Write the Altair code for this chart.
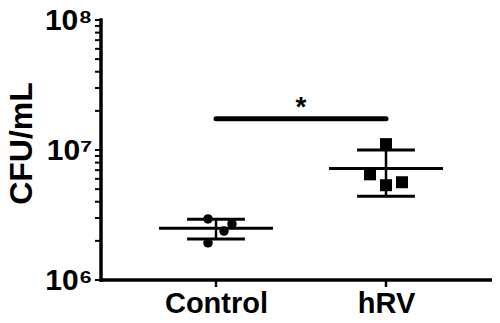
import math
import altair as alt
import pandas as pd

# ---- data ----
groups = ["Control", "hRV"]
group_pos = [0, 1]
ctrl_vals = [2.95e6, 2.70e6, 2.38e6, 1.93e6]
ctrl_jit = [-0.047, 0.094, 0.047, -0.047]
hrv_vals = [1.11e7, 6.5e6, 5.36e6, 5.65e6]
hrv_jit = [0.0, -0.094, 0.0, 0.094]
means = [2.5e6, 7.2e6]
sds = [0.43e6, 2.8e6]
sig_y = 1.74e7
star_y = 1.74e7
y_lo, y_hi = 1e6, 1e8

y_ticks = [k * 10 ** e for e in (6, 7) for k in range(1, 10)] + [10 ** 8]

# ---- layout (pixels) ----
W, H = 399, 272
X0 = 123          # pixel of Control
PX_PER_UNIT = 170
AX_X = 8          # y-axis line inside plot area
AX_TOP = 2        # pixel of 1e8
AX_BOT = 262      # pixel of 1e6
TICK_Y = 6
TICK_X = 7

dec_per_px = (math.log10(y_hi) - math.log10(y_lo)) / (AX_BOT - AX_TOP)
dom_lo = 10 ** (math.log10(y_lo) - (H - AX_BOT) * dec_per_px)
dom_hi = 10 ** (math.log10(y_hi) + AX_TOP * dec_per_px)


def px2x(p):
    return (p - X0) / PX_PER_UNIT


pts = pd.DataFrame({
    "group": ["Control"] * 4 + ["hRV"] * 4,
    "pos": [0] * 4 + [1] * 4,
    "jit": ctrl_jit + hrv_jit,
    "value": ctrl_vals + hrv_vals,
})
summ = pd.DataFrame({"group": groups, "pos": group_pos, "mean": means, "sd": sds})
sig = pd.DataFrame({"x1": [0], "x2": [1], "y": [sig_y], "ys": [star_y], "label": ["*"]})
ytk = pd.DataFrame({"v": y_ticks, "a": px2x(AX_X - TICK_Y), "b": px2x(AX_X)})
xtk = pd.DataFrame({"p": group_pos, "a": y_lo, "b": 10 ** (math.log10(y_lo) - TICK_X * dec_per_px)})
ydomd = pd.DataFrame({"x": [px2x(AX_X)], "a": [y_lo], "b": [y_hi]})
xdomd = pd.DataFrame({"a": [px2x(AX_X)], "b": [px2x(W)], "y": [y_lo]})

FONT = "Liberation Sans"
xscale = alt.Scale(domain=[px2x(0), px2x(W)], nice=False, zero=False)
yscale = alt.Scale(type="log", domain=[dom_lo, dom_hi], nice=False)

xaxis = alt.Axis(
    values=[0, 1], title=None, domain=False, ticks=False,
    labelExpr="datum.value == 0 ? 'Control' : datum.value == 1 ? 'hRV' : ''",
    labelFontSize=29, labelPadding=-1,
)
yaxis = alt.Axis(
    values=y_ticks, title="CFU/mL", domain=False, ticks=False,
    labelExpr="datum.value == 1000000 ? '10⁶' : datum.value == 10000000 ? '10⁷' : datum.value == 100000000 ? '10⁸' : ''",
    labelFontSize=30, labelPadding=1,
    titleFont=FONT, titleFontSize=32, titleFontWeight="bold", titleColor="black",
    titleX=-62, titleY=125, titleBaseline="alphabetic", titleAlign="center", titleAngle=270,
)


def X(field):
    return alt.X(field, scale=xscale, axis=xaxis)


def Y(field):
    return alt.Y(field, scale=yscale, axis=yaxis)


points = alt.Chart(pts).transform_calculate(xp="datum.pos + datum.jit").mark_point(
    filled=True, color="black", opacity=1
).encode(
    x=X("xp:Q"),
    y=Y("value:Q"),
    shape=alt.Shape("group:N", scale=alt.Scale(domain=groups, range=["circle", "square"]), legend=None),
    size=alt.Size("group:N", scale=alt.Scale(domain=groups, range=[90, 144]), legend=None),
)

base = alt.Chart(summ).transform_calculate(
    ml="datum.pos - 0.335", mr="datum.pos + 0.335",
    sl="datum.pos - 0.17", sr="datum.pos + 0.17",
    hi="datum.mean + datum.sd", lo="datum.mean - datum.sd",
)
mean_rule = base.mark_rule(color="black", strokeWidth=3).encode(
    x=X("ml:Q"), x2="mr:Q", y=Y("mean:Q"))
sd_hi = base.mark_rule(color="black", strokeWidth=3).encode(
    x=X("sl:Q"), x2="sr:Q", y=Y("hi:Q"))
sd_lo = base.mark_rule(color="black", strokeWidth=3).encode(
    x=X("sl:Q"), x2="sr:Q", y=Y("lo:Q"))
sd_v = base.mark_rule(color="black", strokeWidth=2.5).encode(
    x=X("pos:Q"), y=Y("lo:Q"), y2="hi:Q")

sig_bar = alt.Chart(sig).mark_rule(color="black", strokeWidth=5, strokeCap="round").encode(
    x=X("x1:Q"), x2="x2:Q", y=Y("y:Q"))
star = alt.Chart(sig).transform_calculate(xm="(datum.x1 + datum.x2) / 2").mark_text(
    font=FONT, fontSize=28, fontWeight="bold", color="black", baseline="alphabetic", dy=-3
).encode(x=X("xm:Q"), y=Y("ys:Q"), text="label:N")

# hand-drawn axis lines and ticks, built from data like the other rules
ydom = alt.Chart(ydomd).mark_rule(color="black", strokeWidth=3.5, strokeCap="square").encode(
    x=X("x:Q"), y=Y("a:Q"), y2="b:Q")
xdom = alt.Chart(xdomd).mark_rule(color="black", strokeWidth=3.5, strokeCap="square").encode(
    x=X("a:Q"), x2="b:Q", y=Y("y:Q"))
yticks = alt.Chart(ytk).mark_rule(color="black", strokeWidth=2).encode(
    x=X("a:Q"), x2="b:Q", y=Y("v:Q"))
xticks = alt.Chart(xtk).mark_rule(color="black", strokeWidth=2.5).encode(
    x=X("p:Q"), y=Y("a:Q"), y2="b:Q")

chart = alt.layer(
    mean_rule, sd_hi, sd_lo, sd_v, points, sig_bar, star, yticks, xticks, ydom, xdom
).properties(
    width=W, height=H, background="white",
    autosize=alt.AutoSizeParams(type="none"),
    padding={"left": 85, "top": 10, "right": 0, "bottom": 25},
).configure_view(stroke=None).configure_axis(
    grid=False, labelFont=FONT, labelFontWeight="bold", labelColor="#000000",
)

chart.save("out.html", embed_options={"renderer": "svg", "actions": False})
